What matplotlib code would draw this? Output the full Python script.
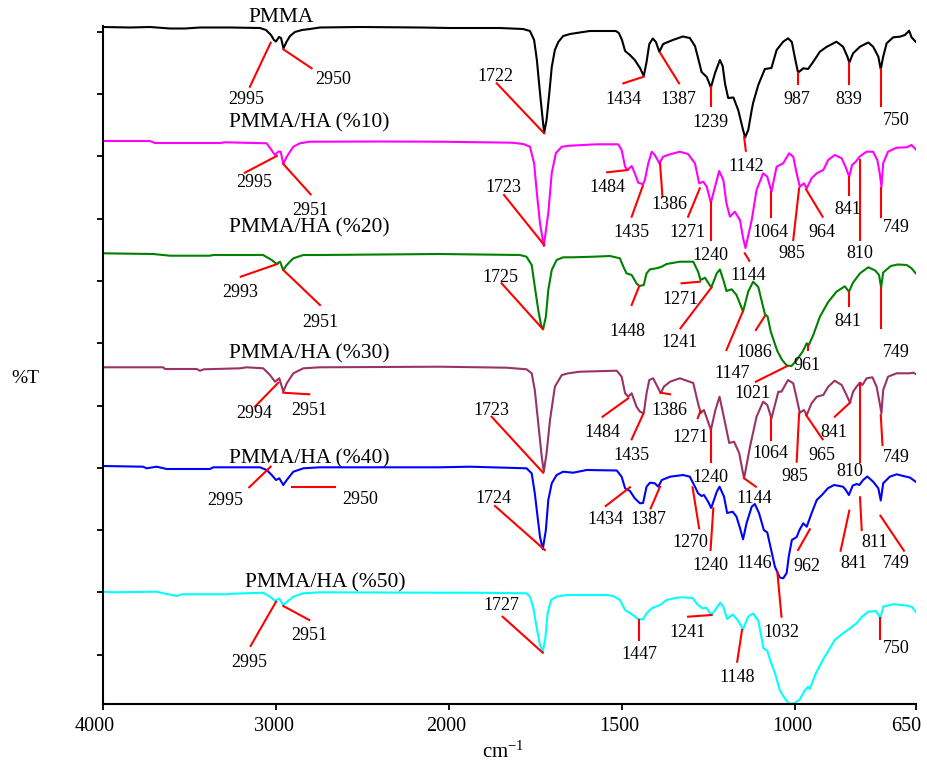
import numpy as np
import matplotlib
matplotlib.use("Agg")
import matplotlib.pyplot as plt
from matplotlib.transforms import ScaledTranslation

plt.rcParams['font.family'] = ['Liberation Serif', 'DejaVu Serif']
plt.rcParams['mathtext.fontset'] = 'custom'
plt.rcParams['mathtext.rm'] = 'Liberation Serif'
plt.rcParams['mathtext.it'] = 'Liberation Serif:italic'

# ---------------- data (wavenumber cm-1, stacked %T in plot units) ----------------
series_names = ["PMMA", "PMMA/HA (%10)", "PMMA/HA (%20)", "PMMA/HA (%30)", "PMMA/HA (%40)", "PMMA/HA (%50)"]
series_colors = ["#000000", "#FF00FF", "#008000", "#993366", "#0000FF", "#00FFFF"]

pmma_wn = [4000, 3842, 3727, 3611, 3524, 3438, 3264, 3091, 3056, 3027, 3010, 2998, 2981, 2969, 2955, 2938, 2917, 2889,
           2848, 2802, 2744, 2513, 2166, 1996, 1852, 1785, 1765, 1753, 1745, 1736, 1728, 1724, 1717, 1709, 1702, 1693,
           1683, 1669, 1649, 1621, 1592, 1517, 1508, 1499, 1490, 1476, 1462, 1447, 1436, 1428, 1420, 1410, 1401, 1391,
           1380, 1352, 1323, 1303, 1288, 1279, 1269, 1254, 1242, 1230, 1216, 1208, 1201, 1192, 1177, 1163, 1149, 1143,
           1134, 1124, 1120, 1105, 1086, 1067, 1052, 1033, 1019, 1008, 999, 990, 975, 961, 946, 927, 908, 879, 860,
           847, 842, 831, 811, 787, 773, 758, 751, 744, 734, 715, 696, 681, 669, 662, 650]
pmma_t = [677, 676.5, 677, 675.5, 675.5, 676.5, 676.5, 676, 674, 669, 664, 662.5, 667, 666, 655.5, 662, 668, 672,
          674, 675, 676.5, 677, 676.5, 676, 676, 675, 673, 664, 644, 611, 584, 571, 584, 611, 637, 654,
          662, 668, 670, 671.5, 673, 673, 671, 664, 653, 649, 644, 636, 628, 642, 660, 665.5, 662, 652.3,
          660, 664, 667.5, 666, 658, 646, 632, 627, 616.5, 631, 644, 638, 620, 606, 606.5, 594, 574, 566.5,
          574, 594, 601, 619, 635, 636, 654, 662.3, 665.7, 662, 646, 631.3, 635.7, 635, 642.3, 652.3, 657, 662.3, 657.3,
          647, 641.3, 650.7, 657.3, 661.5, 657.3, 647.3, 634.7, 647.3, 660.7, 666.7, 667.3, 669, 673.3, 666.7, 662.3]

ha10_wn = [4000, 3727, 3698, 3322, 3293, 3052, 3004, 2985, 2971, 2956, 2936, 2898, 2860, 2802, 2397, 2050, 1818, 1784,
           1765, 1753, 1744, 1736, 1725, 1712, 1702, 1690, 1673, 1649, 1611, 1572, 1510, 1500, 1490, 1483, 1471, 1462,
           1452, 1438, 1433, 1423, 1413, 1404, 1391, 1380, 1360, 1332, 1308, 1288, 1276, 1264, 1254, 1242, 1230, 1218,
           1206, 1197, 1187, 1173, 1158, 1149, 1142, 1124, 1110, 1091, 1079, 1067, 1052, 1033, 1016, 1004, 994, 985,
           973, 965, 951, 936, 917, 903, 884, 864, 853, 842, 834, 823, 813, 806, 792, 773, 761, 754, 749, 744, 730,
           705, 676, 662, 650]
ha10_t = [563, 563, 561, 561, 561.7, 560.7, 549, 552.3, 552.3, 540, 547.3, 557.3, 560.7, 562.3, 562.5, 562.3, 561.3, 560,
          557.3, 540.7, 507.3, 480.7, 458, 491, 531, 551, 557.3, 558.3, 559, 559.7, 559.7, 554, 537.3, 534, 538, 530.7,
          521.3, 519.7, 524, 540.7, 552.3, 549, 540.7, 547.3, 549.7, 552.3, 550, 540.7, 520.7, 522.3, 517.3, 501.3, 517.3, 533,
          524, 500.7, 487.3, 492.3, 484, 466, 456, 484, 514, 530.7, 527.3, 512.3, 537.3, 540.7, 550.7, 547.3, 530.7, 517.3,
          520.7, 515.7, 525.7, 530.7, 534, 544, 549, 545.7, 537.3, 527.3, 539, 542.3, 547, 549, 552.3, 552.3, 544, 530.7, 517.3, 540.7, 552.3,
          556.3, 556.7, 559, 554.7]

ha20_wn = [4000, 3709, 3611, 3380, 3362, 3073, 3023, 2994, 2975, 2956, 2936, 2898, 2840, 2744, 2050, 1794, 1775, 1760,
           1751, 1741, 1733, 1727, 1719, 1712, 1702, 1688, 1669, 1640, 1582, 1534, 1505, 1495, 1486, 1471, 1457, 1449,
           1436, 1428, 1418, 1399, 1384, 1370, 1332, 1293, 1279, 1272, 1259, 1241, 1225, 1216, 1206, 1197, 1182, 1168,
           1149, 1134, 1120, 1105, 1086, 1078, 1069, 1050, 1037, 1023, 1009, 996, 977, 965, 959, 946, 927, 903, 879,
           855, 843, 831, 811, 787, 767, 756, 750, 744, 722, 702, 676, 662, 650]
ha20_t = [450.7, 450, 448.3, 448.3, 449, 449, 444, 440, 442.3, 434, 439, 445.7, 449, 449, 450, 449, 447.3, 439,
          417.3, 394, 379, 374.7, 387.3, 414, 434, 444, 446.7, 446.7, 447.3, 448, 445.7, 437.3, 430.7, 429, 420.7, 418,
          419, 430.7, 434.7, 435.7, 437.3, 440, 442.3, 442.3, 432.3, 424, 426.3, 416.5, 430.7, 434.5, 424, 413, 414.7, 409,
          392.5, 412.5, 422.3, 417, 390, 387.3, 372.3, 353, 344.5, 338.5, 338, 343, 352.3, 360.7, 359, 369, 387.3, 402, 412.3,
          417.7, 412.3, 421.5, 430.7, 436.7, 433.5, 429, 416.5, 431.5, 438, 439.5, 439, 435.7, 430.7]

ha30_wn = [4000, 3650, 3640, 3457, 3438, 3415, 3206, 3168, 3072, 3033, 3004, 2979, 2956, 2936, 2898, 2840, 2744, 2050,
           1832, 1775, 1760, 1751, 1741, 1731, 1725, 1717, 1707, 1693, 1673, 1654, 1621, 1514, 1500, 1490, 1481, 1471,
           1457, 1447, 1436, 1428, 1420, 1409, 1394, 1387, 1378, 1360, 1332, 1293, 1278, 1271, 1262, 1242, 1229, 1217,
           1204, 1189, 1175, 1160, 1151, 1146, 1129, 1110, 1091, 1079, 1067, 1047, 1038, 1019, 1004, 994, 985, 973,
           965, 951, 936, 917, 903, 884, 864, 850, 840, 831, 821, 811, 804, 792, 775, 763, 754, 749, 744, 730, 705,
           667, 657, 650]
ha30_t = [336.7, 336.7, 335, 335, 333.3, 334.7, 335.7, 336.7, 335.7, 329, 322.3, 325.7, 312.3, 320.7, 330.7, 335.7, 336.7, 337.3,
          336.3, 334.7, 330.7, 314, 280.7, 247.3, 232.3, 250.7, 284, 317.3, 329, 330.7, 332.3, 333.3, 327.3, 310.7, 307.3, 310.7,
          297.3, 292.3, 290.7, 310.7, 324, 325.7, 315.7, 310.7, 317.3, 322.3, 325.7, 321, 299, 291, 294, 274, 294, 307.3,
          286, 261, 262.3, 250.7, 234, 225.7, 257.3, 287.3, 302.3, 299, 285.7, 312.3, 312.3, 324, 320.7, 305.7, 291.3, 294,
          289, 300.7, 307.3, 309, 317.3, 323.3, 319, 309, 301.3, 312.3, 317.3, 321.3, 319, 325.7, 326.7, 317.3, 300.7, 290.7, 314, 327.3, 330.7,
          330.7, 331.3, 330]

ha40_wn = [4000, 3767, 3746, 3688, 3630, 3380, 3361, 3091, 3052, 3023, 2998, 2979, 2956, 2936, 2898, 2840, 2744, 2050,
           1938, 1775, 1760, 1751, 1743, 1736, 1728, 1719, 1712, 1702, 1688, 1669, 1640, 1601, 1514, 1500, 1490, 1476,
           1462, 1447, 1438, 1428, 1418, 1404, 1394, 1384, 1360, 1322, 1303, 1288, 1279, 1269, 1262, 1250, 1241, 1225,
           1217, 1204, 1195, 1179, 1168, 1158, 1149, 1139, 1124, 1115, 1103, 1089, 1079, 1069, 1057, 1043, 1033, 1023,
           1017, 1008, 994, 986, 975, 965, 951, 936, 921, 904, 886, 860, 852, 843, 832, 820, 813, 802, 790, 773, 758,
           751, 744, 725, 705, 686, 667, 650]
ha40_t = [238, 237.3, 235.7, 237.3, 235, 235, 236.7, 236.7, 234, 229, 224, 225.7, 219, 224, 232.3, 235.7, 236.7, 236.7,
          237.3, 235.7, 230.7, 210.7, 187.3, 167.3, 154.7, 174, 204, 220.7, 229, 232.3, 231.3, 234, 233.5, 227.3, 215.7, 213,
          205.7, 200.7, 201, 217.3, 221.3, 220.7, 217.3, 224, 227.3, 229, 227.3, 217.3, 210.7, 208, 209, 202.3, 196, 212.3,
          217.3, 207.3, 191, 192.3, 187.3, 176, 164.7, 180.7, 197.3, 200, 191, 174, 171.5, 156, 137.3, 126.5, 125.7, 131,
          147.3, 164, 167, 174, 180.7, 177.3, 190.7, 204, 209, 215.7, 219, 217.3, 214, 209, 218.5, 220, 219, 224, 227.5, 222.3, 215.7,
          203.5, 220.7, 227.3, 229.7, 228, 226.5, 222.3]

ha50_wn = [4000, 3939, 3688, 3630, 3572, 3543, 3283, 3245, 3072, 3033, 3004, 2979, 2956, 2933, 2898, 2840, 2744, 2050,
           1929, 1775, 1765, 1756, 1746, 1736, 1728, 1721, 1714, 1704, 1688, 1659, 1543, 1524, 1505, 1490, 1471, 1452,
           1438, 1428, 1413, 1389, 1370, 1341, 1322, 1295, 1282, 1267, 1256, 1240, 1225, 1215, 1206, 1195, 1179, 1167,
           1149, 1134, 1120, 1105, 1090, 1079, 1071, 1057, 1043, 1031, 1017, 1002, 985, 972, 961, 956, 941, 917, 901,
           884, 860, 840, 821, 806, 787, 765, 752, 744, 715, 676, 661, 650]
ha50_t = [112.3, 111.7, 112.3, 110, 108, 109.7, 109.7, 110.3, 111.3, 107.3, 103.3, 105.3, 99, 102.3, 107.3, 110.7, 111.7, 111.3,
          111.3, 110.7, 107.3, 97.3, 77.3, 59, 52.3, 64, 90.7, 104, 107.3, 109, 109, 108, 104, 94, 90, 84.7,
          84.7, 90.7, 95.7, 99, 104, 106.3, 106.7, 106, 100, 95.7, 96.3, 89, 96.5, 101.3, 97.3, 85, 89.5, 85,
          75, 87.5, 90.5, 83.5, 55.7, 53.3, 44, 31, 14, 7, 0.5, 0.5, 4.5, 13, 17.3, 15, 29, 45, 54,
          64, 70.7, 75.7, 80.7, 87, 92.3, 93, 86, 97.3, 99.8, 98.5, 97, 92.3]

series_wn = [pmma_wn, ha10_wn, ha20_wn, ha30_wn, ha40_wn, ha50_wn]
series_t = [pmma_t, ha10_t, ha20_t, ha30_t, ha40_t, ha50_t]

x_ticks = [4000, 3000, 2000, 1500, 1000, 650]
x_tick_labels = ["4000", "3000", "2000", "1500", "1000", "650"]

# peak labels: (text, text position, red line start, red line end) in data coordinates
ann_pmma = [("2995", (3168, 600), (3149, 617.3), (3029, 661.3)),
            ("2950", (2669, 620), (2956, 654.7), (2792, 635.7)),
            ("1722", (1864, 623), (1861, 620.7), (1724, 570.7)),
            ("1434", (1495, 599.7), (1495, 620.7), (1436, 627.3)),
            ("1387", (1335, 599.7), (1389, 651.3), (1334, 620.7)),
            ("1239", (1244, 577.3), (1243, 616.7), (1243, 598)),
            ("1142", (1140, 533.3), (1146, 566.7), (1141, 553.3)),
            ("987", (993, 599.7), (990, 631.3), (990, 620)),
            ("839", (843, 599.7), (842, 641.3), (842, 620)),
            ("750", (705, 579), (751, 635), (751, 598))]
ann_10 = [("2995", (3121, 516.7), (3178, 531.3), (2994, 548)),
          ("2951", (2802, 489), (2956, 540), (2798, 509.7)),
          ("1723", (1841, 511.7), (1840, 509), (1724, 459)),
          ("1484", (1542, 511.7), (1542, 531.7), (1483, 534)),
          ("1435", (1473, 467.3), (1439, 518), (1471, 487.3)),
          ("1386", (1362, 495), (1389, 540.7), (1382, 507.3)),
          ("1271", (1309, 467.3), (1274, 515.7), (1308, 487.3)),
          ("1240", (1243, 444), (1243, 502.3), (1243, 464)),
          ("1144", (1134, 424), (1144, 450.7), (1131, 443.3)),
          ("1064", (1069, 467.3), (1069, 512.3), (1069, 487.3)),
          ("985", (1009, 445.7), (987, 515.7), (1004, 464)),
          ("964", (922, 467.3), (967, 514.7), (919, 487.3)),
          ("841", (847, 490), (842, 527.3), (842, 509)),
          ("810", (811, 445.7), (811, 544), (811, 464)),
          ("749", (705, 472.3), (751, 515.7), (751, 487.3))]
ann_20 = [("2993", (3206, 407.3), (3202, 427.3), (2991, 440)),
          ("2951", (2744, 377.3), (2956, 434), (2744, 399)),
          ("1725", (1849, 422.3), (1847, 420.7), (1728, 375)),
          ("1448", (1483, 368), (1471, 399), (1449, 418)),
          ("1271", (1329, 400), (1327, 420.7), (1274, 422.3)),
          ("1241", (1332, 356.7), (1330, 375.7), (1240, 416.7)),
          ("1147", (1180, 325.7), (1197, 354), (1150, 392.3)),
          ("1086", (1117, 347.3), (1112, 374), (1086, 388)),
          ("1021", (1122, 305.7), (1112, 322.3), (1021, 338)),
          ("961", (965, 334), (962, 359), (962, 354)),
          ("841", (847, 378), (842, 412.3), (842, 398)),
          ("749", (705, 346.7), (751, 415.7), (751, 375.7))]
ann_30 = [("2994", (3124, 285.7), (3120, 297.3), (2985, 321.3)),
          ("2951", (2808, 289), (2956, 311.3), (2806, 309.7)),
          ("1723", (1877, 289), (1876, 287.3), (1727, 231.3)),
          ("1484", (1556, 267.3), (1555, 287.3), (1481, 305.7)),
          ("1435", (1473, 244), (1471, 264.7), (1438, 289.7)),
          ("1386", (1362, 289), (1387, 311.3), (1360, 309.7)),
          ("1271", (1302, 262.3), (1280, 286), (1272, 293)),
          ("1240", (1243, 222.3), (1243, 274), (1243, 242.3)),
          ("1144", (1117, 200.7), (1146, 225.7), (1112, 217.3)),
          ("1064", (1069, 245.7), (1069, 285.7), (1069, 264)),
          ("985", (999, 223.3), (987, 290.7), (994, 242.3)),
          ("965", (922, 244), (967, 289), (919, 264.7)),
          ("841", (886, 267.3), (840, 301.3), (884, 287.3)),
          ("810", (840, 228.3), (811, 320.7), (811, 242.3)),
          ("749", (705, 242.3), (751, 289), (746, 259))]
ann_40 = [("2995", (3291, 199), (3153, 216.7), (3029, 237.3)),
          ("2950", (2510, 200), (2908, 216.7), (2657, 216.7)),
          ("1724", (1870, 200.7), (1866, 198), (1722, 154)),
          ("1434", (1546, 179.7), (1546, 198), (1476, 216.7)),
          ("1387", (1423, 179.7), (1416, 195.7), (1389, 217.3)),
          ("1270", (1301, 156.7), (1276, 175.7), (1295, 216.7)),
          ("1240", (1243, 134), (1243, 154), (1235, 195.7)),
          ("1146", (1117, 135.7), None, None),
          ("1032", (1038, 67.3), (1050, 132.3), (1038, 87.3)),
          ("962", (964, 133.3), (990, 154), (956, 174.7)),
          ("841", (829, 135.7), (867, 153.3), (842, 193.3)),
          ("811", (768, 156.7), (806, 174), (811, 206.7)),
          ("749", (705, 135.7), (684, 153.3), (752, 188.3))]
ann_50 = [("2995", (3150, 37.3), (3145, 58), (2998, 102.3)),
          ("2951", (2808, 64), (2956, 98), (2806, 84)),
          ("1727", (1849, 94), (1844, 87.3), (1728, 51.3)),
          ("1447", (1449, 44.7), (1449, 84), (1449, 64)),
          ("1241", (1309, 67.3), (1308, 87.3), (1240, 89)),
          ("1148", (1166, 22.3), (1166, 42.3), (1152, 74)),
          ("750", (705, 51.3), (752, 85.7), (752, 64.7))]
annotations = [ann_pmma, ann_10, ann_20, ann_30, ann_40, ann_50]

# series name placement (layout)
name_pos = [(2969, 682, 'center'), (3270, 577, 'left'), (3270, 472, 'left'),
            (3270, 346, 'left'), (3270, 241, 'left'), (3178, 117, 'left')]
# horizontal nudge of tick labels in pixels (layout)
tick_label_shift_px = [-8, -2, -2, -2, -2, -10]


# --------------- split wavenumber scale (4000-2000 compressed x2) ---------------
def fwd(w):
    w = np.asarray(w, dtype=float)
    return np.where(w >= 2000, 2000 + (w - 2000) / 2.0, w)


def inv(u):
    u = np.asarray(u, dtype=float)
    return np.where(u >= 2000, 2000 + (u - 2000) * 2.0, u)


W, H = 928, 769
fig = plt.figure(figsize=(W / 100, H / 100), dpi=100)
ax = fig.add_axes([102.7 / W, 1 - 704 / H, (915.7 - 102.7) / W, (704 - 26) / H])
ax.set_xscale('function', functions=(fwd, inv))
ax.set_xlim(4000, 650)
ax.set_ylim(0, 678)

for wn, t, c in zip(series_wn, series_t, series_colors):
    ax.plot(wn, t, color=c, lw=1.5, solid_joinstyle='round', zorder=2)

for anns in annotations:
    for label, tpos, a, b in anns:
        if a is not None:
            ax.plot([a[0], b[0]], [a[1], b[1]], color='#FF0000', lw=1.5, zorder=3, clip_on=False)
        ax.text(tpos[0], tpos[1], label, ha='center', va='baseline', fontsize=13, zorder=4, clip_on=False)

for name, (x, y, ha) in zip(series_names, name_pos):
    ax.text(x, y, name, ha=ha, va='baseline', fontsize=15.5, clip_on=False)

ax.set_xticks(x_ticks)
ax.set_xticklabels(x_tick_labels)
ax.set_yticks(49.3 + 62.3 * np.arange(11))
ax.tick_params(axis='both', direction='out', length=4.5, width=1.3, labelsize=14.5, pad=5)
ax.tick_params(axis='y', labelleft=False)
ax.minorticks_off()
for s in ['top', 'right']:
    ax.spines[s].set_visible(False)
for s in ['left', 'bottom']:
    ax.spines[s].set_linewidth(1.5)

for lab, dx in zip(ax.get_xticklabels(), tick_label_shift_px):
    lab.set_transform(lab.get_transform() + ScaledTranslation(dx / 100, 0, fig.dpi_scale_trans))

fig.text(503 / W, 1 - 758 / H, 'cm$^{-1}$', ha='center', va='baseline', fontsize=15)
fig.text(25 / W, 1 - 383 / H, '%T', ha='center', va='baseline', fontsize=14)

fig.savefig('out.png', dpi=100)
